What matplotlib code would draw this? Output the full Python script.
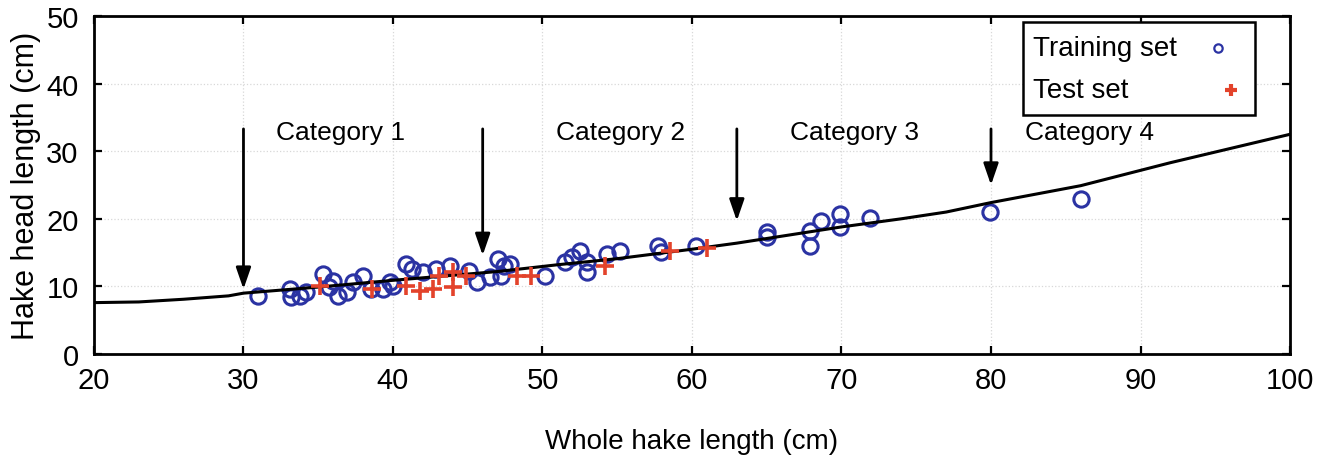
import matplotlib
matplotlib.use("Agg")
import matplotlib.pyplot as plt
from matplotlib.patches import Rectangle

plt.rcParams['font.family'] = ['Liberation Sans', 'DejaVu Sans']

# Training set (whole length, head length), cm
train_x = [31.0, 33.1, 33.2, 33.8, 34.2, 35.3, 35.7, 36.0, 36.3, 36.9, 37.3, 38.0,
           38.5, 39.3, 39.8, 40.0, 40.9, 41.3, 42.0, 42.9, 43.8, 45.1, 45.6, 46.5,
           47.0, 47.2, 47.4, 47.8, 50.2, 51.5, 52.0, 52.5, 53.0, 53.0, 54.3, 55.2,
           57.7, 57.9, 60.3, 65.0, 65.0, 67.9, 67.9, 68.6, 69.9, 69.9, 71.9, 79.9,
           86.0]
train_y = [8.6, 9.6, 8.4, 8.6, 9.2, 11.8, 9.9, 10.8, 8.6, 9.2, 10.6, 11.5,
           9.6, 9.6, 10.6, 10.1, 13.3, 12.6, 12.1, 12.6, 13.0, 12.3, 10.6, 11.4,
           14.1, 11.5, 13.0, 13.3, 11.5, 13.6, 14.3, 15.2, 13.6, 12.1, 14.8, 15.2,
           16.0, 15.1, 16.0, 18.0, 17.3, 18.2, 16.0, 19.7, 20.7, 18.8, 20.1, 21.0,
           22.9]

# Test set
test_x = [35.1, 38.6, 40.9, 41.8, 42.7, 43.1, 44.0, 44.0, 44.9, 48.3, 49.2,
          54.2, 58.5, 61.0]
test_y = [10.1, 9.6, 10.1, 9.3, 9.6, 11.5, 12.1, 9.9, 11.5, 11.6, 11.5,
          13.0, 15.3, 15.7]

# Fitted head-length curve
curve_x = [20, 23, 26, 29, 30, 35, 40, 47, 51, 55, 60, 63, 70, 74, 77, 80, 86, 92, 100]
curve_y = [7.6, 7.7, 8.1, 8.6, 9.0, 9.9, 10.9, 12.2, 13.2, 14.1, 15.5, 16.4, 18.8,
           20.0, 21.0, 22.4, 24.9, 28.3, 32.5]

# Category boundaries and labels
bound_x = [30, 46, 63, 80]
bound_tip = [9.6, 14.6, 19.7, 25.0]
bound_top = 33.3
cat_labels = ['Category 1', 'Category 2', 'Category 3', 'Category 4']
cat_x = [36.5, 55.2, 70.9, 86.6]
cat_y = 32.8

legend_labels = ['Training set', 'Test set']

blue = '#2b33a3'
red = '#e3432b'

fig = plt.figure(figsize=(13.31, 4.56), dpi=100)
ax = fig.add_axes([0.0706, 0.2215, 0.8986, 0.7412])

ax.plot(train_x, train_y, 'o', ms=11, mfc='none', mec=blue, mew=2.2, zorder=3)
ax.plot(curve_x, curve_y, '-', color='black', lw=2.2, zorder=4)
ax.plot(test_x, test_y, '+', ms=13, mec=red, mew=2.6, zorder=5)

for bx, tip in zip(bound_x, bound_tip):
    ax.annotate('', xy=(bx, tip), xytext=(bx, bound_top),
                arrowprops=dict(arrowstyle='-|>,head_length=1.3,head_width=0.45',
                                color='black', lw=2.0, shrinkA=0, shrinkB=0),
                zorder=6)

for lab, cx in zip(cat_labels, cat_x):
    ax.text(cx, cat_y, lab, ha='center', va='center', fontsize=19)

ax.set_xlim(20, 100)
ax.set_ylim(0, 50)
ax.set_xticks(range(20, 101, 10))
ax.set_yticks(range(0, 51, 10))
ax.tick_params(direction='in', length=6, width=1.6, top=True, right=True,
               labelsize=21, pad=9)
ax.tick_params(axis='y', pad=11)
ax.grid(True, linestyle=':', color='#d8d8d8', lw=0.9)
ax.set_axisbelow(True)
for s in ax.spines.values():
    s.set_linewidth(2.0)

ax.set_xlabel('Whole hake length (cm)', fontsize=20, labelpad=24)
ax.set_ylabel('Hake head length (cm)', fontsize=22, labelpad=4)

# Legend box drawn in axes coordinates
tr = ax.transAxes
ax.add_patch(Rectangle((0.7766, 0.707), 0.1940, 0.2745, transform=tr,
                       facecolor='white', edgecolor='black', lw=1.8, zorder=7))
ax.text(0.785, 0.905, legend_labels[0], transform=tr, fontsize=20,
        ha='left', va='center', zorder=8)
ax.text(0.785, 0.781, legend_labels[1], transform=tr, fontsize=20,
        ha='left', va='center', zorder=8)
ax.plot([0.940], [0.905], 'o', transform=tr, ms=6, mfc='none', mec=blue, mew=1.6,
        zorder=8, clip_on=False)
ax.plot([0.951], [0.781], '+', transform=tr, ms=9, mec=red, mew=3.0,
        zorder=8, clip_on=False)

fig.savefig('out.png', dpi=100, facecolor='white')
